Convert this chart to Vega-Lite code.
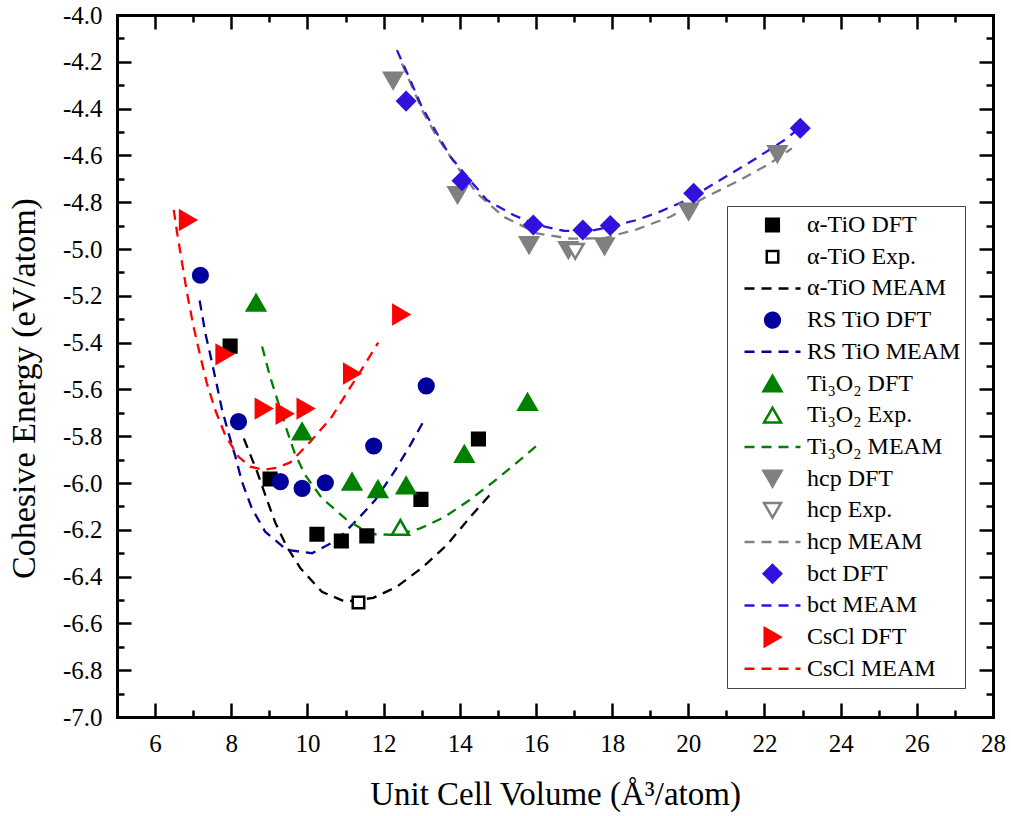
{
  "$schema": "https://vega.github.io/schema/vega-lite/v6.json",
  "width": 876,
  "height": 702,
  "autosize": "none",
  "padding": {"left": 117, "top": 15, "right": 18, "bottom": 99},
  "background": "white",
  "config": {
    "view": {"stroke": null},
    "font": "Liberation Serif",
    "axis": {
      "grid": false,
      "domainColor": "black",
      "domainWidth": 3,
      "domainCap": "square",
      "tickColor": "black",
      "tickWidth": 2.5,
      "labelFont": "Liberation Serif",
      "labelFontSize": 25,
      "labelColor": "black",
      "labelFlush": false,
      "labelOverlap": false,
      "titleFont": "Liberation Serif",
      "titleFontSize": 33,
      "titleFontWeight": "normal",
      "titleColor": "black"
    },
    "legend": {
      "orient": "none",
      "legendX": 610,
      "legendY": 191,
      "labelFont": "Liberation Serif",
      "labelFontSize": 24,
      "labelColor": "black",
      "strokeColor": "#444444",
      "fillColor": "white",
      "padding": 4,
      "symbolOffset": 12,
      "labelOffset": 5,
      "clipHeight": 30,
      "rowPadding": 1.7,
      "symbolStrokeWidth": 2.5,
      "labelLimit": 300
    }
  },
  "datasets": {
    "points": [
      {"series": "α-TiO DFT", "volume": 7.97, "energy": -5.415},
      {"series": "α-TiO DFT", "volume": 9.02, "energy": -5.983},
      {"series": "α-TiO DFT", "volume": 10.25, "energy": -6.219},
      {"series": "α-TiO DFT", "volume": 10.89, "energy": -6.248},
      {"series": "α-TiO DFT", "volume": 11.56, "energy": -6.226},
      {"series": "α-TiO DFT", "volume": 12.98, "energy": -6.07},
      {"series": "α-TiO DFT", "volume": 14.49, "energy": -5.812},
      {"series": "α-TiO Exp.", "volume": 11.34, "energy": -6.511},
      {"series": "RS TiO DFT", "volume": 7.19, "energy": -5.112},
      {"series": "RS TiO DFT", "volume": 8.19, "energy": -5.738},
      {"series": "RS TiO DFT", "volume": 9.29, "energy": -5.994},
      {"series": "RS TiO DFT", "volume": 9.86, "energy": -6.023},
      {"series": "RS TiO DFT", "volume": 10.47, "energy": -5.999},
      {"series": "RS TiO DFT", "volume": 11.74, "energy": -5.842},
      {"series": "RS TiO DFT", "volume": 13.12, "energy": -5.585},
      {"series": "Ti₃O₂ DFT", "volume": 8.65, "energy": -5.23},
      {"series": "Ti₃O₂ DFT", "volume": 9.86, "energy": -5.78},
      {"series": "Ti₃O₂ DFT", "volume": 11.17, "energy": -5.994},
      {"series": "Ti₃O₂ DFT", "volume": 11.85, "energy": -6.026},
      {"series": "Ti₃O₂ DFT", "volume": 12.59, "energy": -6.011},
      {"series": "Ti₃O₂ DFT", "volume": 14.12, "energy": -5.876},
      {"series": "Ti₃O₂ DFT", "volume": 15.78, "energy": -5.654},
      {"series": "Ti₃O₂ Exp.", "volume": 12.44, "energy": -6.19},
      {"series": "hcp DFT", "volume": 12.25, "energy": -4.28},
      {"series": "hcp DFT", "volume": 13.94, "energy": -4.769},
      {"series": "hcp DFT", "volume": 15.82, "energy": -4.983},
      {"series": "hcp DFT", "volume": 16.85, "energy": -5.004},
      {"series": "hcp DFT", "volume": 17.8, "energy": -4.988},
      {"series": "hcp DFT", "volume": 20.01, "energy": -4.84},
      {"series": "hcp DFT", "volume": 22.34, "energy": -4.594},
      {"series": "hcp Exp.", "volume": 17.03, "energy": -5.01},
      {"series": "bct DFT", "volume": 12.59, "energy": -4.368},
      {"series": "bct DFT", "volume": 14.06, "energy": -4.708},
      {"series": "bct DFT", "volume": 15.93, "energy": -4.897},
      {"series": "bct DFT", "volume": 17.23, "energy": -4.919},
      {"series": "bct DFT", "volume": 17.95, "energy": -4.9},
      {"series": "bct DFT", "volume": 20.14, "energy": -4.762},
      {"series": "bct DFT", "volume": 22.94, "energy": -4.484},
      {"series": "CsCl DFT", "volume": 6.86, "energy": -4.876},
      {"series": "CsCl DFT", "volume": 7.82, "energy": -5.45},
      {"series": "CsCl DFT", "volume": 8.85, "energy": -5.682},
      {"series": "CsCl DFT", "volume": 9.4, "energy": -5.704},
      {"series": "CsCl DFT", "volume": 9.95, "energy": -5.682},
      {"series": "CsCl DFT", "volume": 11.17, "energy": -5.532},
      {"series": "CsCl DFT", "volume": 12.46, "energy": -5.28}
    ],
    "curves": [
      {"series": "α-TiO MEAM", "volume": 8.33, "energy": -5.81},
      {"series": "α-TiO MEAM", "volume": 8.68, "energy": -5.952},
      {"series": "α-TiO MEAM", "volume": 8.94, "energy": -6.073},
      {"series": "α-TiO MEAM", "volume": 9.16, "energy": -6.171},
      {"series": "α-TiO MEAM", "volume": 9.46, "energy": -6.272},
      {"series": "α-TiO MEAM", "volume": 9.81, "energy": -6.363},
      {"series": "α-TiO MEAM", "volume": 10.38, "energy": -6.465},
      {"series": "α-TiO MEAM", "volume": 10.99, "energy": -6.507},
      {"series": "α-TiO MEAM", "volume": 11.73, "energy": -6.491},
      {"series": "α-TiO MEAM", "volume": 12.35, "energy": -6.443},
      {"series": "α-TiO MEAM", "volume": 13.04, "energy": -6.358},
      {"series": "α-TiO MEAM", "volume": 13.66, "energy": -6.265},
      {"series": "α-TiO MEAM", "volume": 14.28, "energy": -6.144},
      {"series": "α-TiO MEAM", "volume": 14.85, "energy": -6.04},
      {"series": "RS TiO MEAM", "volume": 7.17, "energy": -5.22},
      {"series": "RS TiO MEAM", "volume": 7.32, "energy": -5.36},
      {"series": "RS TiO MEAM", "volume": 7.49, "energy": -5.482},
      {"series": "RS TiO MEAM", "volume": 7.63, "energy": -5.588},
      {"series": "RS TiO MEAM", "volume": 7.76, "energy": -5.688},
      {"series": "RS TiO MEAM", "volume": 7.93, "energy": -5.788},
      {"series": "RS TiO MEAM", "volume": 8.11, "energy": -5.888},
      {"series": "RS TiO MEAM", "volume": 8.28, "energy": -5.994},
      {"series": "RS TiO MEAM", "volume": 8.54, "energy": -6.108},
      {"series": "RS TiO MEAM", "volume": 8.89, "energy": -6.208},
      {"series": "RS TiO MEAM", "volume": 9.46, "energy": -6.286},
      {"series": "RS TiO MEAM", "volume": 10.12, "energy": -6.3},
      {"series": "RS TiO MEAM", "volume": 10.78, "energy": -6.244},
      {"series": "RS TiO MEAM", "volume": 11.34, "energy": -6.151},
      {"series": "RS TiO MEAM", "volume": 11.78, "energy": -6.073},
      {"series": "RS TiO MEAM", "volume": 12.31, "energy": -5.944},
      {"series": "RS TiO MEAM", "volume": 12.7, "energy": -5.838},
      {"series": "RS TiO MEAM", "volume": 13.07, "energy": -5.73},
      {"series": "Ti₃O₂ MEAM", "volume": 8.81, "energy": -5.417},
      {"series": "Ti₃O₂ MEAM", "volume": 9.02, "energy": -5.546},
      {"series": "Ti₃O₂ MEAM", "volume": 9.24, "energy": -5.66},
      {"series": "Ti₃O₂ MEAM", "volume": 9.46, "energy": -5.774},
      {"series": "Ti₃O₂ MEAM", "volume": 9.66, "energy": -5.87},
      {"series": "Ti₃O₂ MEAM", "volume": 9.94, "energy": -5.966},
      {"series": "Ti₃O₂ MEAM", "volume": 10.38, "energy": -6.065},
      {"series": "Ti₃O₂ MEAM", "volume": 11.04, "energy": -6.158},
      {"series": "Ti₃O₂ MEAM", "volume": 11.65, "energy": -6.218},
      {"series": "Ti₃O₂ MEAM", "volume": 12.35, "energy": -6.222},
      {"series": "Ti₃O₂ MEAM", "volume": 12.96, "energy": -6.194},
      {"series": "Ti₃O₂ MEAM", "volume": 13.58, "energy": -6.147},
      {"series": "Ti₃O₂ MEAM", "volume": 14.23, "energy": -6.076},
      {"series": "Ti₃O₂ MEAM", "volume": 14.89, "energy": -5.994},
      {"series": "Ti₃O₂ MEAM", "volume": 15.63, "energy": -5.895},
      {"series": "Ti₃O₂ MEAM", "volume": 16.07, "energy": -5.833},
      {"series": "hcp MEAM", "volume": 12.48, "energy": -4.207},
      {"series": "hcp MEAM", "volume": 13.05, "energy": -4.42},
      {"series": "hcp MEAM", "volume": 13.4, "energy": -4.52},
      {"series": "hcp MEAM", "volume": 13.93, "energy": -4.648},
      {"series": "hcp MEAM", "volume": 14.45, "energy": -4.762},
      {"series": "hcp MEAM", "volume": 15.15, "energy": -4.862},
      {"series": "hcp MEAM", "volume": 16.03, "energy": -4.933},
      {"series": "hcp MEAM", "volume": 16.9, "energy": -4.956},
      {"series": "hcp MEAM", "volume": 17.78, "energy": -4.954},
      {"series": "hcp MEAM", "volume": 18.65, "energy": -4.916},
      {"series": "hcp MEAM", "volume": 19.53, "energy": -4.862},
      {"series": "hcp MEAM", "volume": 20.4, "energy": -4.783},
      {"series": "hcp MEAM", "volume": 21.28, "energy": -4.712},
      {"series": "hcp MEAM", "volume": 22.15, "energy": -4.634},
      {"series": "hcp MEAM", "volume": 22.72, "energy": -4.57},
      {"series": "bct MEAM", "volume": 12.35, "energy": -4.15},
      {"series": "bct MEAM", "volume": 12.7, "energy": -4.278},
      {"series": "bct MEAM", "volume": 13.0, "energy": -4.392},
      {"series": "bct MEAM", "volume": 13.75, "energy": -4.605},
      {"series": "bct MEAM", "volume": 14.71, "energy": -4.791},
      {"series": "bct MEAM", "volume": 15.41, "energy": -4.855},
      {"series": "bct MEAM", "volume": 16.03, "energy": -4.897},
      {"series": "bct MEAM", "volume": 16.73, "energy": -4.922},
      {"series": "bct MEAM", "volume": 17.34, "energy": -4.926},
      {"series": "bct MEAM", "volume": 17.95, "energy": -4.905},
      {"series": "bct MEAM", "volume": 18.65, "energy": -4.876},
      {"series": "bct MEAM", "volume": 19.26, "energy": -4.84},
      {"series": "bct MEAM", "volume": 19.96, "energy": -4.791},
      {"series": "bct MEAM", "volume": 20.84, "energy": -4.705},
      {"series": "bct MEAM", "volume": 21.71, "energy": -4.62},
      {"series": "bct MEAM", "volume": 22.59, "energy": -4.527},
      {"series": "bct MEAM", "volume": 22.94, "energy": -4.48},
      {"series": "CsCl MEAM", "volume": 6.49, "energy": -4.833},
      {"series": "CsCl MEAM", "volume": 6.58, "energy": -4.933},
      {"series": "CsCl MEAM", "volume": 6.71, "energy": -5.061},
      {"series": "CsCl MEAM", "volume": 6.84, "energy": -5.189},
      {"series": "CsCl MEAM", "volume": 7.01, "energy": -5.332},
      {"series": "CsCl MEAM", "volume": 7.19, "energy": -5.46},
      {"series": "CsCl MEAM", "volume": 7.36, "energy": -5.574},
      {"series": "CsCl MEAM", "volume": 7.58, "energy": -5.688},
      {"series": "CsCl MEAM", "volume": 7.84, "energy": -5.795},
      {"series": "CsCl MEAM", "volume": 8.19, "energy": -5.888},
      {"series": "CsCl MEAM", "volume": 8.5, "energy": -5.93},
      {"series": "CsCl MEAM", "volume": 8.85, "energy": -5.944},
      {"series": "CsCl MEAM", "volume": 9.2, "energy": -5.935},
      {"series": "CsCl MEAM", "volume": 9.55, "energy": -5.912},
      {"series": "CsCl MEAM", "volume": 10.08, "energy": -5.823},
      {"series": "CsCl MEAM", "volume": 10.64, "energy": -5.717},
      {"series": "CsCl MEAM", "volume": 11.08, "energy": -5.603},
      {"series": "CsCl MEAM", "volume": 11.47, "energy": -5.503},
      {"series": "CsCl MEAM", "volume": 11.86, "energy": -5.4}
    ]
  },
  "layer": [
    {
      "data": {"name": "curves"},
      "mark": {"type": "line", "strokeWidth": 2.3, "clip": true},
      "encoding": {
        "x": {
          "field": "volume", "type": "quantitative",
          "scale": {"domain": [5, 28], "nice": false, "zero": false},
          "axis": {
            "orient": "top", "labels": false, "title": null,
            "values": [5,6,7,8,9,10,11,12,13,14,15,16,17,18,19,20,21,22,23,24,25,26,27,28],
            "tickSize": {"condition": {"test": "datum.value % 2 === 0", "value": -14}, "value": -7}
          }
        },
        "y": {
          "field": "energy", "type": "quantitative",
          "scale": {"domain": [-7, -4], "nice": false, "zero": false},
          "axis": {
            "orient": "right", "labels": false, "title": null,
            "values": [-7,-6.9,-6.8,-6.7,-6.6,-6.5,-6.4,-6.3,-6.2,-6.1,-6,-5.9,-5.8,-5.7,-5.6,-5.5,-5.4,-5.3,-5.2,-5.1,-5,-4.9,-4.8,-4.7,-4.6,-4.5,-4.4,-4.3,-4.2,-4.1,-4],
            "tickSize": {"condition": {"test": "abs(round(datum.value*10)) % 2 === 0", "value": -14}, "value": -7}
          }
        },
        "stroke": {
          "field": "series", "type": "nominal",
          "scale": {
            "domain": ["α-TiO DFT","α-TiO Exp.","α-TiO MEAM","RS TiO DFT","RS TiO MEAM","Ti₃O₂ DFT","Ti₃O₂ Exp.","Ti₃O₂ MEAM","hcp DFT","hcp Exp.","hcp MEAM","bct DFT","bct MEAM","CsCl DFT","CsCl MEAM"],
            "range": ["#000000","#000000","#000000","#00009a","#00009a","#008000","#008000","#008000","#808080","#808080","#808080","#3311dd","#3311dd","#ff0000","#ff0000"]
          },
          "legend": {"title": null}
        },
        "strokeDash": {
          "field": "series", "type": "nominal",
          "scale": {
            "domain": ["α-TiO DFT","α-TiO Exp.","α-TiO MEAM","RS TiO DFT","RS TiO MEAM","Ti₃O₂ DFT","Ti₃O₂ Exp.","Ti₃O₂ MEAM","hcp DFT","hcp Exp.","hcp MEAM","bct DFT","bct MEAM","CsCl DFT","CsCl MEAM"],
            "range": [[1,0],[1,0],[10,7],[1,0],[10,7],[1,0],[1,0],[10,7],[1,0],[1,0],[10,7],[1,0],[10,7],[1,0],[10,7]]
          },
          "legend": {"title": null}
        }
      }
    },
    {
      "data": {"name": "points"},
      "mark": {"type": "point", "filled": true, "opacity": 1, "strokeWidth": 2.5},
      "encoding": {
        "x": {
          "field": "volume", "type": "quantitative",
          "scale": {"domain": [5, 28], "nice": false, "zero": false},
          "axis": {
            "orient": "bottom",
            "title": "Unit Cell Volume (Å³/atom)",
            "titlePadding": 15,
            "values": [5,6,7,8,9,10,11,12,13,14,15,16,17,18,19,20,21,22,23,24,25,26,27,28],
            "tickSize": {"condition": {"test": "datum.value % 2 === 0", "value": -14}, "value": -7},
            "labelExpr": "datum.value % 2 === 0 ? datum.label : ''",
            "labelPadding": 28
          }
        },
        "y": {
          "field": "energy", "type": "quantitative",
          "scale": {"domain": [-7, -4], "nice": false, "zero": false},
          "axis": {
            "orient": "left",
            "title": "Cohesive Energy (eV/atom)",
            "titleFontSize": 34,
            "titlePadding": 21,
            "titleY": 373,
            "values": [-7,-6.9,-6.8,-6.7,-6.6,-6.5,-6.4,-6.3,-6.2,-6.1,-6,-5.9,-5.8,-5.7,-5.6,-5.5,-5.4,-5.3,-5.2,-5.1,-5,-4.9,-4.8,-4.7,-4.6,-4.5,-4.4,-4.3,-4.2,-4.1,-4],
            "tickSize": {"condition": {"test": "abs(round(datum.value*10)) % 2 === 0", "value": -14}, "value": -7},
            "labelExpr": "abs(round(datum.value*10)) % 2 === 0 ? '-' + format(abs(datum.value), '.1f') : ''",
            "labelPadding": 29
          }
        },
        "fill": {
          "field": "series", "type": "nominal",
          "scale": {
            "domain": ["α-TiO DFT","α-TiO Exp.","α-TiO MEAM","RS TiO DFT","RS TiO MEAM","Ti₃O₂ DFT","Ti₃O₂ Exp.","Ti₃O₂ MEAM","hcp DFT","hcp Exp.","hcp MEAM","bct DFT","bct MEAM","CsCl DFT","CsCl MEAM"],
            "range": ["#000000","#ffffff","transparent","#00009a","transparent","#008000","#ffffff","transparent","#808080","#ffffff","transparent","#3311dd","transparent","#ff0000","transparent"]
          },
          "legend": {"title": null}
        },
        "stroke": {
          "field": "series", "type": "nominal",
          "scale": {
            "domain": ["α-TiO DFT","α-TiO Exp.","α-TiO MEAM","RS TiO DFT","RS TiO MEAM","Ti₃O₂ DFT","Ti₃O₂ Exp.","Ti₃O₂ MEAM","hcp DFT","hcp Exp.","hcp MEAM","bct DFT","bct MEAM","CsCl DFT","CsCl MEAM"],
            "range": ["#000000","#000000","#000000","#00009a","#00009a","#008000","#008000","#008000","#808080","#808080","#808080","#3311dd","#3311dd","#ff0000","#ff0000"]
          },
          "legend": {"title": null}
        },
        "shape": {
          "field": "series", "type": "nominal",
          "scale": {
            "domain": ["α-TiO DFT","α-TiO Exp.","α-TiO MEAM","RS TiO DFT","RS TiO MEAM","Ti₃O₂ DFT","Ti₃O₂ Exp.","Ti₃O₂ MEAM","hcp DFT","hcp Exp.","hcp MEAM","bct DFT","bct MEAM","CsCl DFT","CsCl MEAM"],
            "range": ["square","square","stroke","circle","stroke","triangle-up","triangle-up","stroke","triangle-down","triangle-down","stroke","diamond","stroke","triangle-right","stroke"]
          },
          "legend": {"title": null}
        },
        "size": {
          "field": "series", "type": "nominal",
          "scale": {
            "type": "ordinal",
            "domain": ["α-TiO DFT","α-TiO Exp.","α-TiO MEAM","RS TiO DFT","RS TiO MEAM","Ti₃O₂ DFT","Ti₃O₂ Exp.","Ti₃O₂ MEAM","hcp DFT","hcp Exp.","hcp MEAM","bct DFT","bct MEAM","CsCl DFT","CsCl MEAM"],
            "range": [160,132,3136,215,3136,324,290,3136,324,290,3136,306,3136,324,3136]
          },
          "legend": {"title": null}
        }
      }
    }
  ],
  "resolve": {"axis": {"x": "independent", "y": "independent"}}
}
